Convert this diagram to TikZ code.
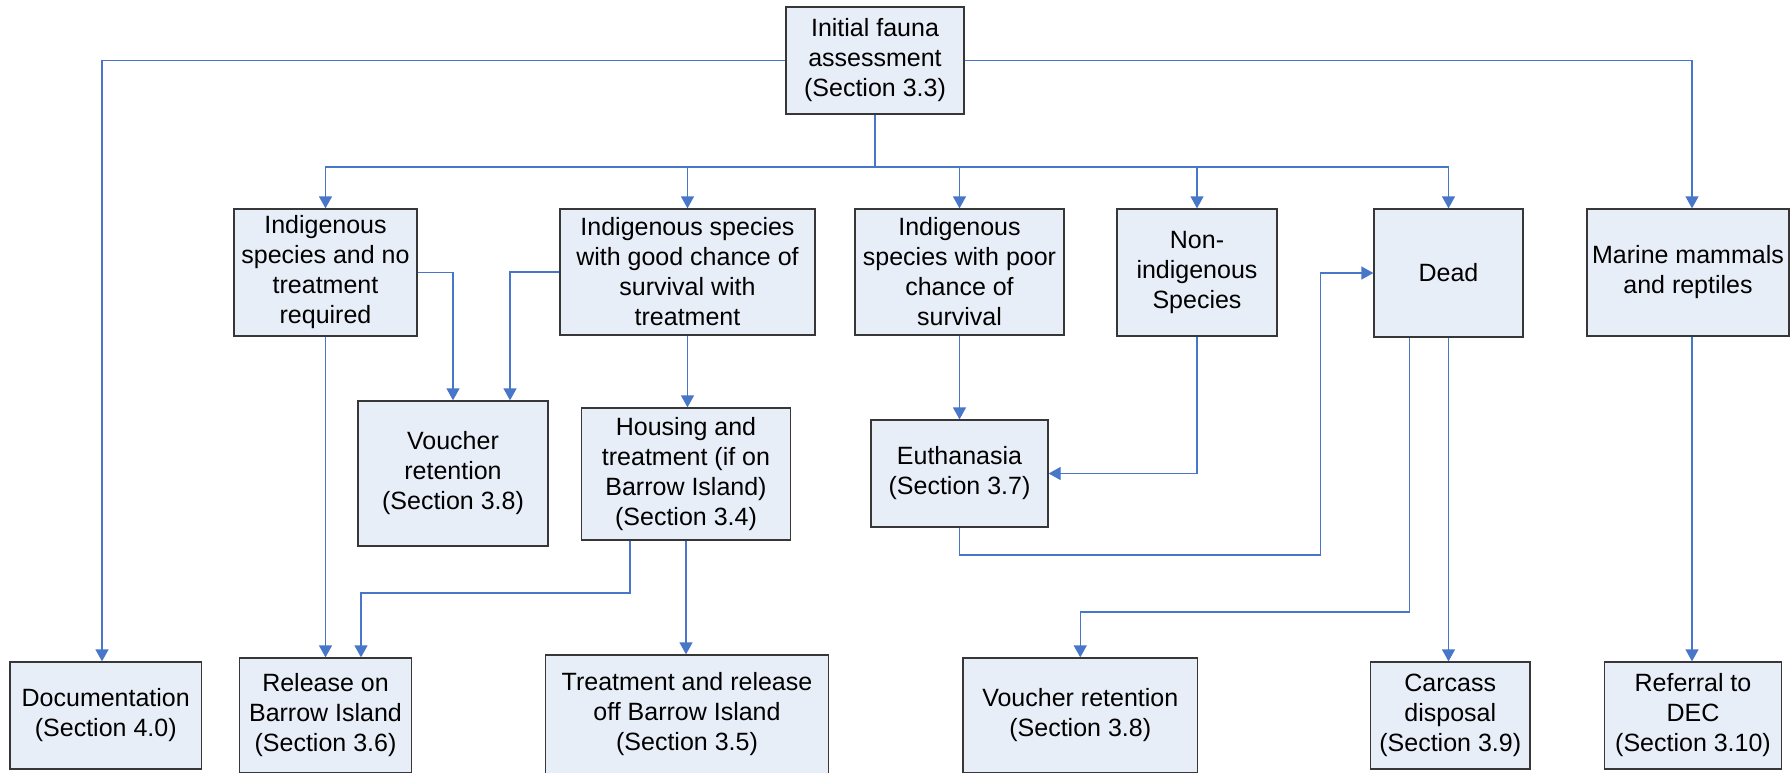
\documentclass[tikz,border=0pt]{standalone}
\usepackage{fontspec}
\setmainfont{Liberation Sans}
\usetikzlibrary{arrows.meta}
\definecolor{boxfill}{RGB}{232,238,248}
\definecolor{boxline}{RGB}{55,55,55}
\definecolor{linkblue}{RGB}{72,118,200}
\begin{document}
\begin{tikzpicture}[x=1pt,y=-1pt,
  box/.style={draw=boxline, line width=1.3pt, fill=boxfill, align=center,
              inner sep=0pt, font=\fontsize{25}{30}\selectfont},
  link/.style={draw=linkblue, line width=1.3pt},
  arr/.style={link, -{Triangle[length=12pt,width=13pt]}}]
\clip (0,0) rectangle (1791,772);
\fill[white] (0,0) rectangle (1791,772);

% top
\node[box, minimum width=178pt, minimum height=107pt] (init) at (875,60.5)
  {Initial fauna\\assessment\\(Section 3.3)};

% second row
\node[box, minimum width=183pt, minimum height=127pt] (A) at (325.5,272.5)
  {Indigenous\\species and no\\treatment\\required};
\node[box, minimum width=255pt, minimum height=126pt] (B) at (687.5,272)
  {Indigenous species\\with good chance of\\survival with\\treatment};
\node[box, minimum width=209pt, minimum height=126pt] (C) at (959.5,272)
  {Indigenous\\species with poor\\chance of\\survival};
\node[box, minimum width=160pt, minimum height=127pt] (D) at (1197,272.5)
  {Non-\\indigenous\\Species};
\node[box, minimum width=149pt, minimum height=128pt] (E) at (1448.5,273)
  {Dead};
\node[box, minimum width=202pt, minimum height=127pt] (F) at (1688,272.5)
  {Marine mammals\\and reptiles};

% third row
\node[box, minimum width=190pt, minimum height=145pt] (V1) at (453,473.5)
  {Voucher\\retention\\(Section 3.8)};
\node[box, minimum width=209pt, minimum height=132pt] (H) at (686,474)
  {Housing and\\treatment (if on\\Barrow Island)\\(Section 3.4)};
\node[box, minimum width=177pt, minimum height=107pt] (Eu) at (959.5,473.5)
  {Euthanasia\\(Section 3.7)};

% bottom row
\node[box, minimum width=191.5pt, minimum height=107pt] (doc) at (105.75,715.5)
  {Documentation\\(Section 4.0)};
\node[box, minimum width=172pt, minimum height=115pt] (Rel) at (325.5,715.5)
  {Release on\\Barrow Island\\(Section 3.6)};
\node[box, minimum width=283pt, minimum height=119pt] (T) at (687,714.5)
  {Treatment and release\\off Barrow Island\\(Section 3.5)};
\node[box, minimum width=234.5pt, minimum height=115pt] (V2) at (1080.25,715.5)
  {Voucher retention\\(Section 3.8)};
\node[box, minimum width=159.5pt, minimum height=107pt] (Car) at (1450.25,715.5)
  {Carcass\\disposal\\(Section 3.9)};
\node[box, minimum width=177pt, minimum height=107pt] (Ref) at (1693,715.5)
  {Referral to\\DEC\\(Section 3.10)};

% distribution bus from the assessment
\coordinate (bus) at (875,167);
\draw[link] (init.south) -- (bus);
\draw[arr] (bus) -| (A.north);
\draw[arr] (bus) -| (B.north);
\draw[arr] (bus) -| (C.north);
\draw[arr] (bus) -| (D.north);
\draw[arr] (bus) -| (E.north);
\draw[arr] (init.west) -| ([xshift=-3.75pt]doc.north);
\draw[arr] (init.east) -| ([xshift=4pt]F.north);

% second row onwards
\draw[arr] (A.east) -| (V1.north);
\draw[arr] (B.west) -| ([xshift=57pt]V1.north);
\draw[arr] (B.south) -- (B.south |- H.north);
\draw[arr] (A.south) -- (A.south |- Rel.north);
\coordinate (hturn) at (630,593);
\draw[arr] ([xshift=-56pt]H.south) -- (hturn) -| ([xshift=35.5pt]Rel.north);
\draw[arr] (H.south) -- (H.south |- T.north);
\draw[arr] (C.south) -- (Eu.north);
\draw[arr] (D.south) |- (Eu.east);
\coordinate (euturn) at (1320.5,555);
\draw[arr] (Eu.south) |- (euturn) |- (E.west);
\coordinate (eturn) at (1409.5,612);
\draw[arr] ([xshift=-39pt]E.south) -- (eturn) -| (V2.north);
\draw[arr] (E.south) -- (E.south |- Car.north);
\draw[arr] ([xshift=4pt]F.south) -- ([xshift=4pt]F.south |- Ref.north);
\end{tikzpicture}
\end{document}
